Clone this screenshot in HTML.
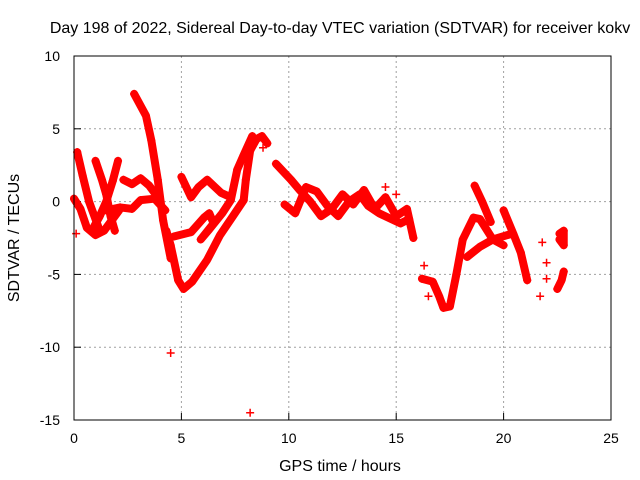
<!DOCTYPE html>
<html><head><meta charset="utf-8"><style>
body{margin:0;background:#fff}svg{display:block;font-family:"Liberation Sans",sans-serif}
</style></head><body>
<svg id="chart" width="640" height="480">
<text x="340" y="33" text-anchor="middle" font-size="16">Day 198 of 2022, Sidereal Day-to-day VTEC variation (SDTVAR) for receiver kokv</text>
<text x="340" y="471" text-anchor="middle" font-size="16">GPS time / hours</text>
<text transform="translate(19,238) rotate(-90)" text-anchor="middle" font-size="16">SDTVAR / TECUs</text>
<g id="grid"></g><g id="marks"></g>
<rect x="74" y="56" width="537" height="364" fill="none" stroke="#000"/>
</svg>
<script>
const xTicks=[0,5,10,15,20,25];
const yTicks=[10,5,0,-5,-10,-15];
const trackA=[[2.8,7.4],[3.35,5.9],[3.6,4.2],[3.9,1.5],[4.15,-1.3],[4.5,-3.9]];
const trackB=[[4.3,-2],[4.5,-3],[4.85,-5.4],[5.1,-6],[5.5,-5.5],[6.2,-4],[6.8,-2.3],[7.4,-1],[7.9,0.1],[8.0,1.5],[8.2,3.5],[8.5,4.3],[8.75,4.5],[9.0,4.0]];
const trackC=[[4.65,-2.4],[5.45,-2.1],[6.05,-1.1],[6.3,-0.8],[6.5,-1.5],[5.9,-2.6],[6.3,-1.9],[6.9,-0.8],[7.3,0.1],[7.6,2.2],[7.9,3.2],[8.3,4.5]];
const trackD=[[5.0,1.7],[5.45,0.3],[5.8,1.0],[6.2,1.5],[6.85,0.6],[7.3,0.3]];
const trackE=[[2.3,1.5],[2.7,1.2],[3.1,1.6],[3.5,1.1],[4.0,0.1]];
const trackF=[[1.5,-0.6],[2.15,-0.4],[2.7,-0.5],[3.1,0.1],[3.75,0.2],[4.25,-0.6]];
const trackG=[[0.15,3.4],[0.4,1.8],[0.7,0],[1.0,-1.2],[1.2,-2]];
const trackH=[[1.0,2.8],[1.3,1.5],[1.5,0.5],[1.7,-1],[1.9,-2]];
const trackI=[[2.05,2.8],[1.8,1.4],[1.5,0],[1.2,-1],[0.9,-1.8]];
const trackJ=[[0,0.2],[0.3,-0.5],[0.6,-1.8],[1.0,-2.3],[1.4,-2],[1.8,-1.2],[2.1,-0.6]];
const trackK=[[9.4,2.6],[10.1,1.5],[10.5,0.8],[11,0],[11.5,-1],[12,-0.5],[12.5,0.5],[13,-0.2],[13.5,0.8],[14,-0.5],[14.5,0.3],[15,-1],[15.5,-0.5],[15.8,-2.5]];
const trackL=[[9.8,-0.2],[10.3,-0.8],[10.8,1],[11.3,0.7],[11.8,-0.3],[12.3,-1],[12.8,0],[13.3,0.5],[13.7,-0.3],[14.2,-0.8],[15.2,-1.5],[15.6,-1.2]];
const trackM=[[16.2,-5.3],[16.7,-5.5],[17.0,-6.5],[17.2,-7.3],[17.5,-7.2],[17.8,-5],[18.1,-2.6],[18.6,-1.1],[18.9,-1.2],[19.5,-2.6],[20.4,-2.2]];
const trackN=[[18.65,1.1],[19.0,0],[19.4,-1.4]];
const trackO=[[18.3,-3.8],[18.9,-3.1],[19.5,-2.6],[20.0,-3.0]];
const trackP=[[20.0,-0.6],[20.45,-2.2],[20.8,-3.5],[21.1,-5.4]];
const trackQ=[[22.6,-2.2],[22.8,-2.0],[22.8,-3.0],[22.6,-2.6]];
const trackR=[[22.5,-6.0],[22.7,-5.4],[22.8,-4.8]];
const singles=[[4.5,-10.4],[8.2,-14.5],[21.8,-2.8],[22.0,-4.2],[22.0,-5.3],[21.7,-6.5],[16.3,-4.4],[16.5,-6.5],[15.0,0.5],[14.5,1.0],[0.1,-2.2],[8.8,3.7]];
const tracks=[trackA,trackB,trackC,trackD,trackE,trackF,trackG,trackH,trackI,trackJ,trackK,trackL,trackM,trackN,trackO,trackP,trackQ,trackR];
const X=h=>74+h*537/25, Y=v=>201.6-v*364/25;
const NS="http://www.w3.org/2000/svg";
const grid=document.getElementById('grid'),marks=document.getElementById('marks');
function mk(t,a,p){const e=document.createElementNS(NS,t);for(const k in a)e.setAttribute(k,a[k]);p.appendChild(e);return e;}
xTicks.forEach(t=>{const x=X(t);
 if(t>0&&t<25){const g=mk('line',{x1:x,x2:x,y1:56,y2:420,stroke:'#a0a0a0','stroke-dasharray':'2,3'},grid);}
 const tk=mk('line',{x1:x,x2:x,y1:420,y2:413,stroke:'#000'},grid);
 const l=mk('text',{x:x,y:443,'text-anchor':'middle','font-size':14},grid);l.textContent=t;
 
 });
yTicks.forEach(t=>{const y=Y(t);
 if(t<10&&t>-15){const g=mk('line',{x1:74,x2:611,y1:y,y2:y,stroke:'#a0a0a0','stroke-dasharray':'2,3'},grid);}
 const tk=mk('line',{x1:74,x2:81,y1:y,y2:y,stroke:'#000'},grid);
 const l=mk('text',{x:60,y:y+5,'text-anchor':'end','font-size':14},grid);l.textContent=t;
 
 });
function plus(h,v){const x=X(h),y=Y(v);
 const p=mk('path',{d:`M${x-4} ${y}h8M${x} ${y-4}v8`,stroke:'#f00','stroke-width':1.5},marks);
 
 }
tracks.forEach(tr=>{
 const pl=mk('polyline',{points:tr.map(p=>X(p[0])+','+Y(p[1])).join(' '),fill:'none',stroke:'#f00','stroke-width':8,'stroke-linejoin':'round','stroke-linecap':'round'},marks);
 
 
 tr.forEach(p=>plus(p[0],p[1]));});
singles.forEach(p=>plus(p[0],p[1]));
</script>
</body></html>
